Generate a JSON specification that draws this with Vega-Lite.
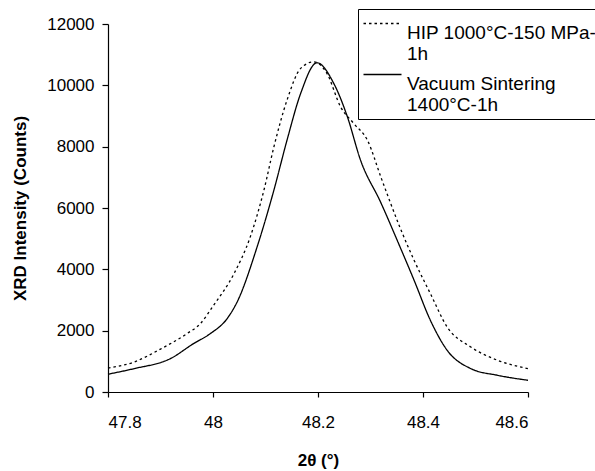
{
  "$schema": "https://vega.github.io/schema/vega-lite/v6.json",
  "width": 420,
  "height": 368,
  "autosize": {"type": "none"},
  "padding": {"left": 108, "top": 24, "right": 67, "bottom": 79},
  "config": {
    "view": {"stroke": null},
    "font": "Liberation Sans",
    "axis": {
      "grid": false,
      "domainColor": "black",
      "domainWidth": 1.2,
      "tickColor": "black",
      "tickWidth": 1.2,
      "tickSize": 6,
      "labelColor": "black",
      "labelFont": "Liberation Sans",
      "labelFontSize": 17,
      "titleFont": "Liberation Sans",
      "titleFontSize": 17,
      "titleFontWeight": "bold",
      "titleColor": "black"
    }
  },
  "data": {
    "values": [
      {"theta": 47.8, "counts": 780, "series": "HIP"},
      {"theta": 47.85, "counts": 980, "series": "HIP"},
      {"theta": 47.9, "counts": 1400, "series": "HIP"},
      {"theta": 47.95, "counts": 1900, "series": "HIP"},
      {"theta": 47.976, "counts": 2230, "series": "HIP"},
      {"theta": 48.0, "counts": 2800, "series": "HIP"},
      {"theta": 48.04, "counts": 3860, "series": "HIP"},
      {"theta": 48.071, "counts": 5058, "series": "HIP"},
      {"theta": 48.097, "counts": 6582, "series": "HIP"},
      {"theta": 48.116, "counts": 7994, "series": "HIP"},
      {"theta": 48.141, "counts": 9518, "series": "HIP"},
      {"theta": 48.167, "counts": 10552, "series": "HIP"},
      {"theta": 48.192, "counts": 10768, "series": "HIP"},
      {"theta": 48.217, "counts": 10389, "series": "HIP"},
      {"theta": 48.243, "counts": 9300, "series": "HIP"},
      {"theta": 48.268, "counts": 8758, "series": "HIP"},
      {"theta": 48.294, "counts": 8213, "series": "HIP"},
      {"theta": 48.321, "counts": 6950, "series": "HIP"},
      {"theta": 48.357, "counts": 5330, "series": "HIP"},
      {"theta": 48.383, "counts": 4297, "series": "HIP"},
      {"theta": 48.414, "counts": 3211, "series": "HIP"},
      {"theta": 48.446, "counts": 2121, "series": "HIP"},
      {"theta": 48.491, "counts": 1468, "series": "HIP"},
      {"theta": 48.542, "counts": 1034, "series": "HIP"},
      {"theta": 48.6, "counts": 763, "series": "HIP"},
      {"theta": 47.8, "counts": 580, "series": "Vacuum"},
      {"theta": 47.85, "counts": 763, "series": "Vacuum"},
      {"theta": 47.919, "counts": 1090, "series": "Vacuum"},
      {"theta": 47.963, "counts": 1579, "series": "Vacuum"},
      {"theta": 47.995, "counts": 1905, "series": "Vacuum"},
      {"theta": 48.027, "counts": 2395, "series": "Vacuum"},
      {"theta": 48.046, "counts": 2937, "series": "Vacuum"},
      {"theta": 48.084, "counts": 4731, "series": "Vacuum"},
      {"theta": 48.116, "counts": 6582, "series": "Vacuum"},
      {"theta": 48.141, "counts": 8213, "series": "Vacuum"},
      {"theta": 48.167, "counts": 9737, "series": "Vacuum"},
      {"theta": 48.198, "counts": 10736, "series": "Vacuum"},
      {"theta": 48.23, "counts": 10063, "series": "Vacuum"},
      {"theta": 48.256, "counts": 8973, "series": "Vacuum"},
      {"theta": 48.281, "counts": 7560, "series": "Vacuum"},
      {"theta": 48.319, "counts": 6200, "series": "Vacuum"},
      {"theta": 48.357, "counts": 4700, "series": "Vacuum"},
      {"theta": 48.383, "counts": 3645, "series": "Vacuum"},
      {"theta": 48.414, "counts": 2340, "series": "Vacuum"},
      {"theta": 48.446, "counts": 1361, "series": "Vacuum"},
      {"theta": 48.491, "counts": 763, "series": "Vacuum"},
      {"theta": 48.542, "counts": 545, "series": "Vacuum"},
      {"theta": 48.6, "counts": 382, "series": "Vacuum"}
    ]
  },
  "mark": {"type": "line", "interpolate": "monotone", "strokeWidth": 1.3, "color": "black"},
  "encoding": {
    "x": {
      "field": "theta",
      "type": "quantitative",
      "scale": {"domain": [47.8, 48.6], "zero": false, "nice": false},
      "axis": {"values": [47.8, 48, 48.2, 48.4, 48.6], "format": ".1~f", "title": "2θ (°)", "labelPadding": 17, "titlePadding": 22, "tickSize": 5}
    },
    "y": {
      "field": "counts",
      "type": "quantitative",
      "scale": {"domain": [0, 12000], "nice": false},
      "axis": {"values": [0, 2000, 4000, 6000, 8000, 10000, 12000], "format": "d", "title": "XRD Intensity (Counts)", "labelPadding": 8, "titlePadding": 17}
    },
    "strokeDash": {
      "field": "series",
      "type": "nominal",
      "scale": {"domain": ["HIP", "Vacuum"], "range": [[2.5, 3], [1, 0]]},
      "legend": {
        "orient": "none",
        "legendX": 250,
        "legendY": -15,
        "title": null,
        "symbolType": "M-2,0L2,0",
        "symbolSize": 361,
        "symbolStrokeWidth": 1.3,
        "symbolStrokeColor": "black",
        "symbolFillColor": "transparent",
        "symbolOffset": 10,
        "labelExpr": "datum.label == 'HIP' ? ['HIP 1000°C-150 MPa-', '1h'] : ['Vacuum Sintering', '1400°C-1h']",
        "labelFontSize": 19,
        "labelColor": "black",
        "labelLimit": 400,
        "labelOffset": 14,
        "labelBaseline": "top",
        "strokeColor": "black",
        "padding": 4,
        "rowPadding": -9
      }
    }
  }
}
